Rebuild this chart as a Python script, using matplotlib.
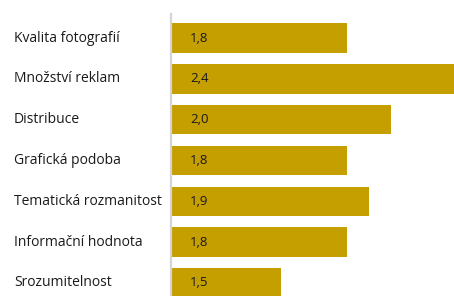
import matplotlib.pyplot as plt

# hodnocení časopisu (průměrná známka, 1 = nejlepší)
categories = ["Kvalita fotografií", "Množství reklam", "Distribuce", "Grafická podoba",
              "Tematická rozmanitost", "Informační hodnota", "Srozumitelnost"]
values = [1.8, 2.4, 2.0, 1.8, 1.9, 1.8, 1.5]

plt.rcParams['font.family'] = ['Open Sans', 'DejaVu Sans']

fig = plt.figure(figsize=(4.54, 2.96), dpi=100)
ax = fig.add_axes([171 / 454, 0, 1 - 171 / 454, 282 / 296])

ypos = list(range(len(categories)))
ax.barh(ypos, values, height=0.72, left=0, color='#c59e00')

ax.set_xlim(1.0, 2.287)
ax.set_ylim(6.32, -0.59)

for y, name, v in zip(ypos, categories, values):
    ax.text(1.128, y, f"{v:.1f}".replace('.', ','), ha='center', va='center',
            fontsize=9.5, color='#1a1a1a')
    # popisky kategorií zarovnané k levému okraji obrázku
    ax.annotate(name, xy=(0, y), xycoords=('figure fraction', 'data'),
                xytext=(14 / 454 * fig.get_figwidth() * 72, 0), textcoords='offset points',
                ha='left', va='center', fontsize=10, color='#1a1a1a')

ax.set_xticks([])
ax.set_yticks([])
for side in ['top', 'right', 'bottom']:
    ax.spines[side].set_visible(False)
ax.spines['left'].set_color('#d4d4d4')
ax.spines['left'].set_linewidth(1.6)

fig.savefig("out.png", dpi=100)
